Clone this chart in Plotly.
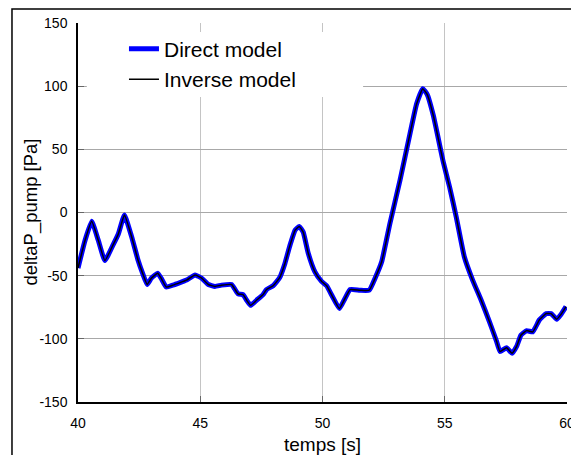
import plotly.graph_objects as go

# time [s]
temps = [40.0, 40.29, 40.56, 40.83, 41.1, 41.45, 41.65, 41.9, 42.19, 42.46, 42.64, 42.83,
         43.0, 43.26, 43.4, 43.61, 43.88, 44.17, 44.44, 44.79, 45.06, 45.33, 45.6, 45.87,
         46.28, 46.41, 46.55, 46.75, 46.9, 47.06, 47.3, 47.57, 47.71, 47.98, 48.25, 48.46,
         48.67, 48.88, 49.05, 49.21, 49.42, 49.69, 49.96, 50.17, 50.38, 50.69, 50.92, 51.13,
         51.53, 51.91, 52.15, 52.42, 52.76, 53.17, 53.58, 53.85, 54.1, 54.28, 54.53, 54.94,
         55.2, 55.47, 55.8, 56.14, 56.49, 56.83, 57.12, 57.26, 57.53, 57.75, 57.94, 58.12,
         58.35, 58.6, 58.87, 59.15, 59.35, 59.58, 59.76, 59.96]

# deltaP_pump [Pa], direct model
direct_model = [-44, -22, -7, -22, -38, -25, -17, -2, -19, -38, -48, -57,
                -52, -48, -52, -59, -57.5, -55.5, -53.5, -49.5, -52, -57, -58.5, -57.5,
                -57, -60.5, -64.5, -65, -69.5, -73.5, -69.5, -65, -61, -58, -51.5, -40.5,
                -26, -14, -11, -15.5, -32.5, -47, -54.5, -58, -65.5, -76, -68, -61,
                -61.5, -61.5, -52, -39, -8.5, 25.5, 62.5, 86, 98, 93.5, 77, 40,
                20, -3.5, -35, -53.5, -69.5, -86.5, -102, -110, -107, -111.5, -106, -97,
                -93.5, -94.5, -85, -80, -80, -84.5, -80.5, -74.5]

# deltaP_pump [Pa], inverse model
inverse_model = [-44, -22, -7, -22, -38, -25, -17, -2, -19, -38, -48, -57,
                 -52, -48, -52, -59, -57.5, -55.5, -53.5, -49.5, -52, -57, -58.5, -57.5,
                 -57, -60.5, -64.5, -65, -69.5, -73.5, -69.5, -65, -61, -58, -51.5, -40.5,
                 -26, -14, -11, -15.5, -32.5, -47, -54.5, -58, -65.5, -76, -68, -61,
                 -61.5, -61.5, -52, -39, -8.5, 25.5, 62.5, 86, 98, 93.5, 77, 40,
                 20, -3.5, -35, -53.5, -69.5, -86.5, -102, -110, -107, -111.5, -106, -97,
                 -93.5, -94.5, -85, -80, -80, -84.5, -80.5, -74.5]

x_ticks = [40, 45, 50, 55, 60]
y_ticks = [-150, -100, -50, 0, 50, 100, 150]
x_title = "temps [s]"
y_title = "deltaP_pump [Pa]"

FONT = "Liberation Sans, Arial, sans-serif"

fig = go.Figure()
fig.add_trace(go.Scatter(x=temps, y=direct_model, mode="lines", name="Direct model",
                         line=dict(color="#0000ff", width=5, shape="spline", smoothing=0.4)))
fig.add_trace(go.Scatter(x=temps, y=inverse_model, mode="lines", name="Inverse model",
                         line=dict(color="black", width=1.5, shape="spline", smoothing=0.4)))

# the page body adds an 8px margin, so the figure is offset accordingly
fig.update_layout(
    width=571, height=447,
    margin=dict(l=70, r=12, t=15, b=53, autoexpand=False),
    paper_bgcolor="white", plot_bgcolor="white",
    font=dict(family=FONT, color="black", size=14),
    showlegend=True,
    legend=dict(x=0.094, y=0.985, xanchor="left", yanchor="top",
                bgcolor="rgba(0,0,0,0)", font=dict(size=21, family=FONT),
                itemwidth=30, tracegroupgap=0),
    shapes=[
        # white legend background box covering the grid
        dict(type="rect", xref="paper", yref="paper", x0=0.018, x1=0.583, y0=0.805, y1=0.976,
             fillcolor="white", line=dict(width=0), layer="above"),
        # outer frame
        dict(type="rect", xref="paper", yref="paper", x0=-0.135, x1=1.0164, y0=-0.2, y1=1.037,
             fillcolor="rgba(0,0,0,0)", line=dict(color="black", width=1.5), layer="above"),
    ],
    annotations=[
        dict(text=x_title, xref="paper", yref="paper", x=0.5, y=-0.111,
             xanchor="center", yanchor="middle", showarrow=False, font=dict(size=19)),
        dict(text=y_title, xref="paper", yref="paper", x=-0.098, y=0.5, textangle=-90,
             xanchor="center", yanchor="middle", showarrow=False, font=dict(size=18.5)),
    ],
)

fig.update_xaxes(range=[40, 60], tickvals=x_ticks, ticktext=[str(v) for v in x_ticks],
                 showgrid=True, gridcolor="#c4c4c4", gridwidth=1.2,
                 showline=True, linecolor="black", linewidth=1.5,
                 ticks="inside", ticklen=6, tickcolor="#666666",
                 ticklabelstandoff=7, automargin=False,
                 zeroline=False, tickfont=dict(size=14))
fig.update_yaxes(range=[-150, 150], tickvals=y_ticks, ticktext=[str(v) for v in y_ticks],
                 showgrid=True, gridcolor="#a8a8a8", gridwidth=1.2,
                 showline=True, linecolor="black", linewidth=1.5,
                 ticks="inside", ticklen=6, tickcolor="#666666",
                 ticklabelstandoff=6, automargin=False,
                 zeroline=False, tickfont=dict(size=14))

fig.write_html("out.html")
